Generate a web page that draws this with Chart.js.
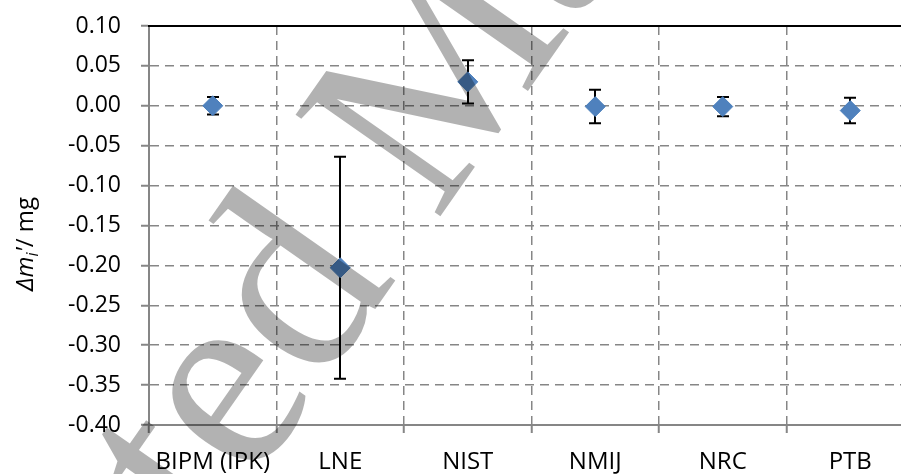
<!DOCTYPE html>
<html>
<head>
<meta charset="utf-8">
<script src="https://cdn.jsdelivr.net/npm/chart.js@4"></script>
<style>
  html, body { margin: 0; padding: 0; background: #fff; overflow: hidden; }
  #wrap { width: 930px; height: 474px; }
</style>
</head>
<body>
<div id="wrap"><canvas id="chart" width="930" height="474"></canvas></div>
<script>
// data (mg)
const categories = ['BIPM (IPK)', 'LNE', 'NIST', 'NMIJ', 'NRC', 'PTB'];
const values = [0.000, -0.203, 0.030, -0.001, -0.001, -0.006];
const uncert = [0.011, 0.139, 0.027, 0.021, 0.012, 0.016];
const yMin = -0.40, yMax = 0.10, yStep = 0.05;

const gridGrey = '#868686';

// vertical error bars, drawn under the markers
const errorBars = {
  id: 'errorBars',
  beforeDatasetsDraw(chart) {
    const ctx = chart.ctx;
    const xs = chart.scales.x, ys = chart.scales.y;
    ctx.save();
    ctx.strokeStyle = '#000';
    ctx.lineWidth = 2;
    values.forEach((v, i) => {
      const px = Math.round(xs.getPixelForValue(i));
      const top = ys.getPixelForValue(v + uncert[i]);
      const bot = ys.getPixelForValue(v - uncert[i]);
      ctx.beginPath();
      ctx.moveTo(px, top); ctx.lineTo(px, bot);
      ctx.moveTo(px - 6, top); ctx.lineTo(px + 6, top);
      ctx.moveTo(px - 6, bot); ctx.lineTo(px + 6, bot);
      ctx.stroke();
    });
    ctx.restore();
  }
};

// y axis title with italic Δm and subscript i
const yTitle = {
  id: 'yTitle',
  afterDraw(chart) {
    const ctx = chart.ctx;
    const parts = [
      { t: 'Δm', f: 'italic 24px "Open Sans"', dy: 0 },
      { t: 'i', f: 'italic 16px "Open Sans"', dy: 5 },
      { t: '\'', f: 'italic 24px "Open Sans"', dy: 0 },
      { t: '/ mg', f: '24px "Open Sans"', dy: 0 }
    ];
    ctx.save();
    ctx.translate(33, 244);
    ctx.rotate(-Math.PI / 2);
    ctx.fillStyle = '#000';
    ctx.textBaseline = 'alphabetic';
    let total = 0;
    parts.forEach(p => { ctx.font = p.f; p.w = ctx.measureText(p.t).width; total += p.w; });
    let x = -total / 2;
    parts.forEach(p => {
      ctx.font = p.f;
      ctx.fillText(p.t, x, p.dy);
      x += p.w;
    });
    ctx.restore();
  }
};

// grey "Accepted Manuscript" stamp over the figure
const watermark = {
  id: 'watermark',
  afterDraw(chart) {
    const ctx = chart.ctx;
    ctx.save();
    ctx.translate(208, 548);
    ctx.rotate(-55 * Math.PI / 180);
    ctx.font = '270px "Liberation Serif"';
    ctx.fillStyle = 'rgba(0,0,0,0.3)';
    ctx.textBaseline = 'alphabetic';
    const pre = ctx.measureText('Accep').width;
    ctx.fillText('Accepted Manuscript', -pre, 0);
    ctx.restore();
  }
};

new Chart(document.getElementById('chart'), {
  type: 'line',
  data: {
    labels: categories,
    datasets: [{
      data: values,
      showLine: false,
      pointStyle: 'rectRot',
      pointRadius: 10,
      pointHoverRadius: 10,
      backgroundColor: '#4F81BD',
      borderColor: '#4A7EBB',
      borderWidth: 1
    }]
  },
  options: {
    responsive: false,
    animation: false,
    layout: { padding: { top: 26, right: 16, left: 0, bottom: 0 } },
    plugins: { legend: { display: false }, tooltip: { enabled: false } },
    scales: {
      x: {
        type: 'category',
        position: 'bottom',
        offset: true,
        grid: { offset: true, color: gridGrey, lineWidth: 1.5, tickLength: 8, tickColor: gridGrey, tickWidth: 2, tickBorderDash: [] },
        border: { color: gridGrey, width: 2, dash: [9, 6] },
        ticks: { color: '#000', font: { family: '"Open Sans"', size: 24 }, padding: 15, maxRotation: 0, autoSkip: false },
        afterFit(s) { s.height = 49; s.paddingLeft = 0; s.paddingRight = 0; }
      },
      x2: {
        type: 'category',
        position: 'top',
        labels: categories,
        offset: true,
        ticks: { display: false },
        grid: { display: false, drawTicks: false },
        border: { color: '#000', width: 2, z: 1 },
        afterFit(s) { s.height = 0; s.paddingLeft = 0; s.paddingRight = 0; }
      },
      y: {
        min: yMin,
        max: yMax,
        ticks: {
          stepSize: yStep,
          color: '#000',
          font: { family: '"Open Sans"', size: 23 },
          padding: 20,
          callback: v => (Math.abs(v) < 1e-9 ? 0 : v).toFixed(2)
        },
        grid: { color: gridGrey, lineWidth: 1.5, tickLength: 8, tickColor: gridGrey, tickWidth: 2, tickBorderDash: [] },
        border: { color: gridGrey, width: 2, dash: [9, 6] },
        afterFit(s) { s.width = 149; s.paddingTop = 0; s.paddingBottom = 0; }
      }
    }
  },
  plugins: [errorBars, yTitle, watermark]
});
</script>
</body>
</html>
